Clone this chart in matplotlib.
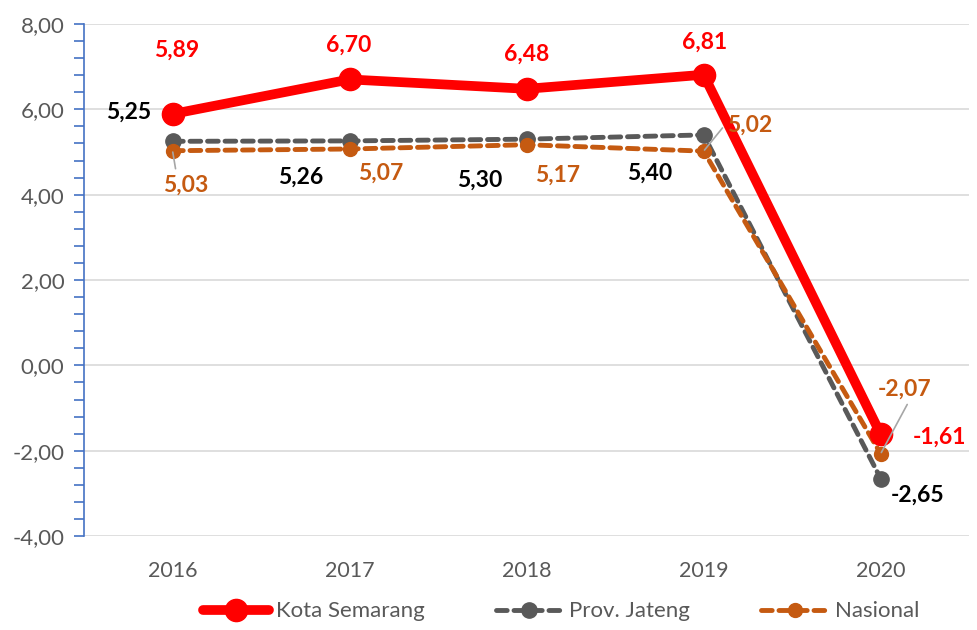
import matplotlib
matplotlib.use('Agg')
import matplotlib.pyplot as plt
from matplotlib.ticker import MultipleLocator, FuncFormatter

# Data
years = ['2016', '2017', '2018', '2019', '2020']
kota_semarang = [5.89, 6.70, 6.48, 6.81, -1.61]
prov_jateng = [5.25, 5.26, 5.30, 5.40, -2.65]
nasional = [5.03, 5.07, 5.17, 5.02, -2.07]

RED = '#FF0000'
GRAY = '#595959'
ORANGE = '#C55A11'
AXIS_BLUE = '#4472C4'

plt.rcParams['font.family'] = ['Lato', 'DejaVu Sans']

fig = plt.figure(figsize=(9.77, 6.3), dpi=100)
ax = fig.add_axes([0.086, 0.149, 0.906, 0.813])

x = list(range(len(years)))

ax.plot(x, nasional, color=ORANGE, lw=3.5, ls=(0, (2.2, 1.4)),
        dash_capstyle='round', marker='o', ms=10, label='Nasional', zorder=3)
ax.plot(x, prov_jateng, color=GRAY, lw=3.5, ls=(0, (2.2, 1.4)),
        dash_capstyle='round', marker='o', ms=11, label='Prov. Jateng', zorder=2)
ax.plot(x, kota_semarang, color=RED, lw=7, marker='o', ms=16,
        label='Kota Semarang', zorder=4, solid_capstyle='round')


def fmt(v):
    return f'{v:.2f}'.replace('.', ',')


# label offsets in pixels (dx, dy)
red_off = [(4, 64), (-1, 34), (0, 35), (1, 33), (59, -3)]
gray_off = [(-44, 29), (-49, -36), (-47, -41), (-54, -38), (37, -17)]
orange_off = [(13, -34), (31, -24), (31, -30), (46, 26), (24, 65)]
# where the leader line leaves the label (relative position), None = no leader
leader = [(0.3, 1.0), None, None, (-0.05, 0.5), (0.6, 0.0)]

for i in x:
    ax.annotate(fmt(kota_semarang[i]), (i, kota_semarang[i]), xytext=red_off[i],
                textcoords='offset pixels', ha='center', va='center',
                color=RED, fontsize=16.5, fontweight='bold', zorder=6)
    ax.annotate(fmt(prov_jateng[i]), (i, prov_jateng[i]), xytext=gray_off[i],
                textcoords='offset pixels', ha='center', va='center',
                color='black', fontsize=16.5, fontweight='bold', zorder=6)
    props = None
    if leader[i] is not None:
        props = dict(arrowstyle='-', color='#A6A6A6', lw=1.2, shrinkA=2,
                     shrinkB=1, relpos=leader[i])
    ax.annotate(fmt(nasional[i]), (i, nasional[i]), xytext=orange_off[i],
                textcoords='offset pixels', ha='center', va='center',
                color=ORANGE, fontsize=16.5, fontweight='bold', zorder=6,
                arrowprops=props)

ax.set_xlim(-0.5, 4.5)
ax.set_ylim(-4, 8)
ax.set_xticks(x)
ax.set_xticklabels(years)
ax.yaxis.set_major_locator(MultipleLocator(2))
ax.yaxis.set_minor_locator(MultipleLocator(0.4))
ax.yaxis.set_major_formatter(FuncFormatter(lambda v, p: fmt(v)))

ax.grid(axis='y', which='major', color='#D9D9D9', lw=1.2, zorder=0)
ax.set_axisbelow(True)
for s in ['top', 'right', 'bottom']:
    ax.spines[s].set_visible(False)
ax.spines['left'].set_color(AXIS_BLUE)
ax.spines['left'].set_linewidth(1.2)

ax.tick_params(axis='y', which='both', color=AXIS_BLUE, direction='out',
               labelcolor=GRAY, labelsize=16, width=1.2, pad=7)
ax.tick_params(axis='y', which='major', length=7)
ax.tick_params(axis='y', which='minor', length=7)
ax.tick_params(axis='x', length=0, labelcolor=GRAY, labelsize=15.5, pad=18)

handles, labels = ax.get_legend_handles_labels()
order = [2, 1, 0]
fig.legend([handles[k] for k in order], [labels[k] for k in order],
           loc='lower center', bbox_to_anchor=(0.574, -0.018), ncol=3,
           frameon=False, fontsize=16, labelcolor=GRAY, handlelength=3.0,
           columnspacing=3.2, handletextpad=0.3)

fig.savefig('out.png', dpi=100)
